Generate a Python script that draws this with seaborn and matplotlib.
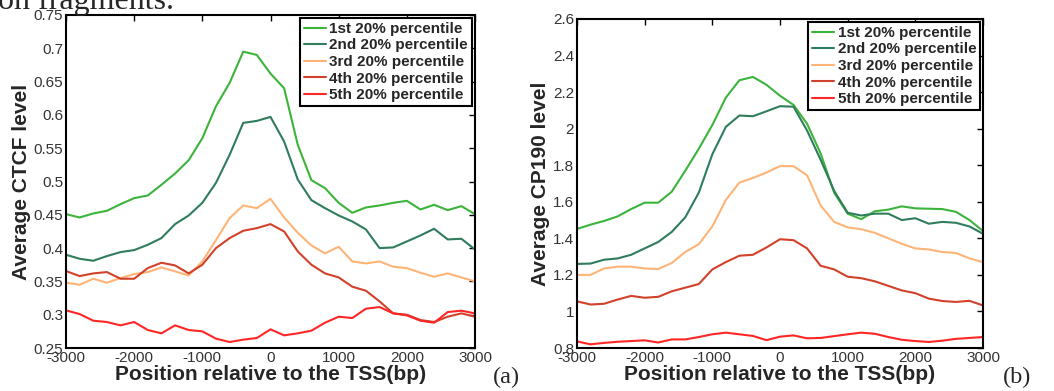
import matplotlib
matplotlib.use("Agg")
import matplotlib.pyplot as plt
import pandas as pd
import seaborn as sns

# ---------------- data ----------------
positions = [-3000, -2800, -2600, -2400, -2200, -2000, -1800, -1600, -1400, -1200,
             -1000, -800, -600, -400, -200, 0, 200, 400, 600, 800,
             1000, 1200, 1400, 1600, 1800, 2000, 2200, 2400, 2600, 2800, 3000]

series_labels = ["1st 20% percentile", "2nd 20% percentile", "3rd 20% percentile",
                 "4th 20% percentile", "5th 20% percentile"]

ctcf_p1 = [0.451, 0.446, 0.452, 0.456, 0.466, 0.475, 0.479, 0.495, 0.512, 0.532,
           0.565, 0.613, 0.648, 0.695, 0.690, 0.662, 0.640, 0.555, 0.502, 0.490,
           0.468, 0.453, 0.461, 0.464, 0.468, 0.471, 0.458, 0.465, 0.457, 0.463, 0.451]
ctcf_p2 = [0.390, 0.384, 0.381, 0.388, 0.394, 0.397, 0.405, 0.415, 0.436, 0.449,
           0.468, 0.498, 0.540, 0.588, 0.591, 0.597, 0.560, 0.503, 0.472, 0.460,
           0.449, 0.440, 0.428, 0.400, 0.401, 0.410, 0.419, 0.429, 0.413, 0.414, 0.398]
ctcf_p3 = [0.348, 0.345, 0.354, 0.348, 0.355, 0.361, 0.364, 0.371, 0.365, 0.359,
           0.380, 0.412, 0.445, 0.464, 0.460, 0.474, 0.446, 0.423, 0.404, 0.392,
           0.402, 0.380, 0.377, 0.380, 0.372, 0.370, 0.363, 0.357, 0.362, 0.356, 0.350]
ctcf_p4 = [0.3655, 0.358, 0.362, 0.364, 0.354, 0.354, 0.370, 0.378, 0.374, 0.362,
           0.375, 0.400, 0.415, 0.426, 0.430, 0.436, 0.425, 0.395, 0.375, 0.362,
           0.356, 0.342, 0.336, 0.320, 0.302, 0.300, 0.292, 0.289, 0.297, 0.302, 0.297]
ctcf_p5 = [0.3065, 0.301, 0.291, 0.289, 0.284, 0.289, 0.277, 0.272, 0.284, 0.277,
           0.275, 0.264, 0.259, 0.2625, 0.265, 0.278, 0.269, 0.272, 0.276, 0.288,
           0.297, 0.295, 0.309, 0.3115, 0.302, 0.299, 0.291, 0.288, 0.304, 0.306, 0.302]

cp190_p1 = [1.451, 1.475, 1.495, 1.520, 1.560, 1.595, 1.595, 1.655, 1.770, 1.890,
            2.020, 2.170, 2.265, 2.283, 2.240, 2.180, 2.130, 2.027, 1.865, 1.650,
            1.535, 1.505, 1.548, 1.557, 1.575, 1.564, 1.562, 1.560, 1.545, 1.500, 1.440]
cp190_p2 = [1.260, 1.262, 1.283, 1.290, 1.310, 1.345, 1.380, 1.435, 1.515, 1.650,
            1.860, 2.010, 2.072, 2.068, 2.095, 2.123, 2.120, 1.990, 1.830, 1.660,
            1.540, 1.525, 1.535, 1.535, 1.500, 1.510, 1.480, 1.490, 1.485, 1.465, 1.425]
cp190_p3 = [1.200, 1.200, 1.235, 1.245, 1.245, 1.235, 1.232, 1.265, 1.325, 1.368,
            1.465, 1.610, 1.705, 1.730, 1.760, 1.795, 1.795, 1.745, 1.580, 1.490,
            1.460, 1.450, 1.430, 1.400, 1.370, 1.345, 1.339, 1.325, 1.320, 1.290, 1.270]
cp190_p4 = [1.055, 1.038, 1.042, 1.065, 1.085, 1.075, 1.080, 1.110, 1.130, 1.150,
            1.230, 1.270, 1.305, 1.310, 1.350, 1.395, 1.390, 1.345, 1.250, 1.230,
            1.190, 1.182, 1.165, 1.140, 1.115, 1.100, 1.070, 1.057, 1.052, 1.058, 1.033]
cp190_p5 = [0.836, 0.820, 0.828, 0.834, 0.838, 0.842, 0.830, 0.847, 0.847, 0.860,
            0.875, 0.884, 0.875, 0.866, 0.843, 0.862, 0.869, 0.853, 0.855, 0.865,
            0.875, 0.884, 0.878, 0.860, 0.845, 0.838, 0.833, 0.840, 0.850, 0.855, 0.860]

ctcf_yticks = [0.25, 0.3, 0.35, 0.4, 0.45, 0.5, 0.55, 0.6, 0.65, 0.7, 0.75]
cp190_yticks = [0.8, 1.0, 1.2, 1.4, 1.6, 1.8, 2.0, 2.2, 2.4, 2.6]
xticks = [-3000, -2000, -1000, 0, 1000, 2000, 3000]

colors = ["#3cb43c", "#2f7d5c", "#ffb477", "#d2412a", "#ff2626"]

# ---------------- style ----------------
sns.set_theme(style="white")
plt.rcParams['font.family'] = ['Liberation Sans', 'DejaVu Sans']
plt.rcParams['axes.unicode_minus'] = False

fig = plt.figure(figsize=(10.54, 3.91), dpi=100)
fig.patch.set_facecolor("white")
ax1 = fig.add_axes([66 / 1054, 1 - 348 / 391, 409 / 1054, 333 / 391])
ax2 = fig.add_axes([577 / 1054, 1 - 348 / 391, 406 / 1054, 329 / 391])


def draw(ax, data, ylabel, ylim, yticks):
    frames = []
    for lab, vals in zip(series_labels, data):
        frames.append(pd.DataFrame({"pos": positions, "val": vals, "grp": lab}))
    df = pd.concat(frames, ignore_index=True)
    sns.lineplot(data=df, x="pos", y="val", hue="grp", hue_order=series_labels,
                 palette=dict(zip(series_labels, colors)), estimator=None,
                 sort=False, linewidth=1.5, ax=ax)
    ax.set_xlim(-3000, 3000)
    ax.set_ylim(*ylim)
    ax.set_xticks(xticks)
    ax.set_xticklabels([f"{t:g}" for t in xticks])
    ax.set_yticks(yticks)
    ax.set_yticklabels([f"{t:g}" for t in yticks])
    ax.tick_params(direction="in", top=True, right=True, length=4, width=1.0,
                   color="black", labelsize=11, labelcolor="#333333", pad=2)
    for sp in ax.spines.values():
        sp.set_visible(True)
        sp.set_color("black")
        sp.set_linewidth(1.5)
    ax.set_xlabel("Position relative to the TSS(bp)", fontsize=15,
                  fontweight="bold", labelpad=0)
    ax.set_ylabel(ylabel, fontsize=15, fontweight="bold", labelpad=2)
    handles, labels = ax.get_legend_handles_labels()
    leg = ax.legend(handles, labels, loc="upper right", bbox_to_anchor=(1, 1),
                    borderaxespad=0.2, frameon=True, fancybox=False,
                    edgecolor="black", framealpha=1,
                    prop={"weight": "bold", "size": 11}, labelspacing=0.17,
                    handlelength=1.45, handletextpad=0.2, borderpad=0.25)
    leg.get_frame().set_linewidth(1.5)


draw(ax1, [ctcf_p1, ctcf_p2, ctcf_p3, ctcf_p4, ctcf_p5],
     "Average CTCF level", (0.25, 0.75), ctcf_yticks)
draw(ax2, [cp190_p1, cp190_p2, cp190_p3, cp190_p4, cp190_p5],
     "Average CP190 level", (0.8, 2.6), cp190_yticks)

serif = ['Liberation Serif', 'DejaVu Serif']
fig.text(-0.002, 1 - 9 / 391, "on fragments.", family=serif, fontsize=23, va="baseline")
fig.text(493 / 1054, 1 - 383 / 391, "(a)", family=serif, fontsize=17.5, va="baseline")
fig.text(1003 / 1054, 1 - 383 / 391, "(b)", family=serif, fontsize=17.5, va="baseline")

fig.savefig("out.png", dpi=100, facecolor="white")
